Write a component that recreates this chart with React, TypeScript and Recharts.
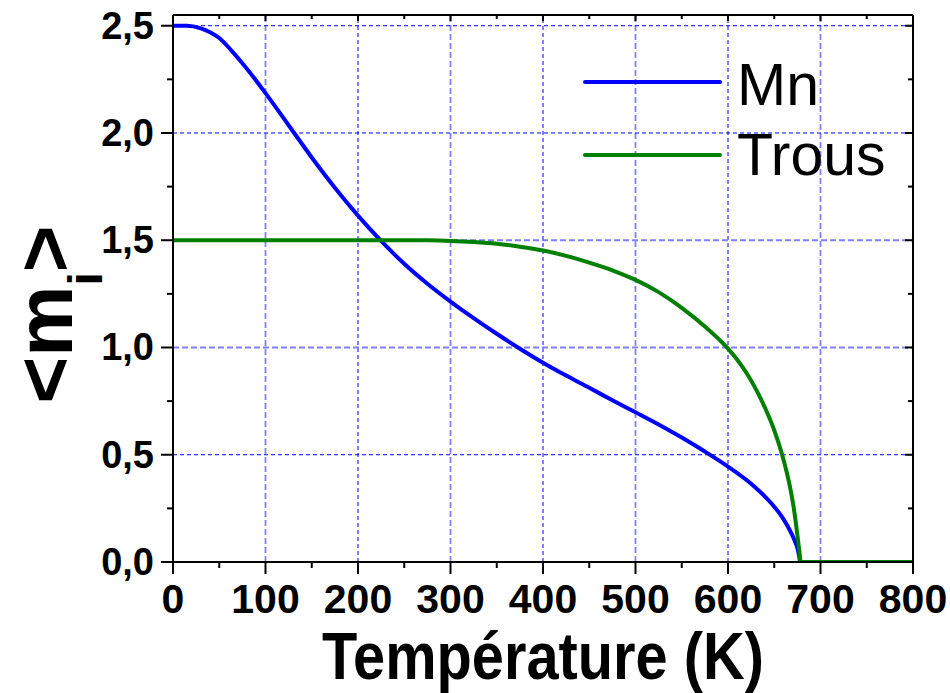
import { LineChart, Line, XAxis, YAxis, ReferenceLine, Legend } from "recharts";

// Mn magnetisation vs temperature
const mnTemps = [0, 15, 30, 40, 50, 62, 75, 100, 125, 150, 175, 200, 225, 250, 275, 300, 325, 350, 375, 400, 425, 450, 475, 500, 525, 550, 575, 600, 625, 640, 650, 660, 668, 672, 675, 677, 678, 700, 800];
const mnValues = [2.5, 2.5, 2.488, 2.47, 2.443, 2.39, 2.325, 2.186, 2.036, 1.886, 1.745, 1.615, 1.497, 1.39, 1.297, 1.214, 1.137, 1.064, 0.994, 0.929, 0.869, 0.812, 0.754, 0.698, 0.641, 0.58, 0.515, 0.445, 0.365, 0.305, 0.258, 0.2, 0.138, 0.1, 0.065, 0.025, 0, 0, 0];

// holes (trous)
const trousTemps = [0, 100, 200, 250, 275, 300, 325, 350, 375, 400, 425, 450, 475, 500, 525, 550, 575, 600, 610, 620, 630, 640, 650, 658, 664, 668, 671, 673, 675, 677, 678.6, 700, 800];
const trousValues = [1.5, 1.5, 1.5, 1.5, 1.4995, 1.497, 1.492, 1.484, 1.47, 1.452, 1.427, 1.396, 1.36, 1.315, 1.258, 1.185, 1.098, 0.995, 0.943, 0.881, 0.807, 0.719, 0.614, 0.508, 0.409, 0.329, 0.254, 0.194, 0.126, 0.056, 0, 0, 0];

const seriesNames = ["Mn", "Trous"];
const seriesColors = ["#0000ff", "#008000"];

const xTicks = [0, 50, 100, 150, 200, 250, 300, 350, 400, 450, 500, 550, 600, 650, 700, 750, 800];
const yTicks = [0, 0.25, 0.5, 0.75, 1, 1.25, 1.5, 1.75, 2, 2.25, 2.5];
const xGridDark = [200, 400, 600];
const xGridLight = [100, 300, 500, 700];
const yGridDark = [0.5, 2, 2.5];
const yGridLight = [1, 1.5];

const mnData = mnTemps.map((t, i) => ({ t, v: mnValues[i] }));
const trousData = trousTemps.map((t, i) => ({ t, v: trousValues[i] }));

const FONT = "'Liberation Sans', Arial, sans-serif";
const isMajorX = (v: number) => v % 100 === 0;
const isMajorY = (v: number) => Math.abs(v * 2 - Math.round(v * 2)) < 1e-6;

const BottomTick = ({ x, y, payload }: any) => {
  const major = isMajorX(payload.value);
  return (
    <g>
      <line x1={x} x2={x} y1={y} y2={y + (major ? 12 : 6)} stroke="#000" strokeWidth={2} />
      {major && (
        <text x={x} y={y + 51} textAnchor="middle" fontSize={41} fontWeight="bold" fontFamily={FONT} fill="#000">
          {payload.value}
        </text>
      )}
    </g>
  );
};

const LeftTick = ({ x, y, payload }: any) => {
  const major = isMajorY(payload.value);
  return (
    <g>
      <line x1={x - (major ? 12 : 6)} x2={x} y1={y} y2={y} stroke="#000" strokeWidth={2} />
      {major && (
        <text x={x - 19} y={y + 13} textAnchor="end" fontSize={38} fontWeight="bold" fontFamily={FONT} fill="#000">
          {payload.value.toFixed(1).replace(".", ",")}
        </text>
      )}
    </g>
  );
};

const TopTick = ({ x, y, payload }: any) => (
  <line x1={x} x2={x} y1={y} y2={y + (isMajorX(payload.value) ? 6 : 4)} stroke="#000" strokeWidth={2} />
);

const RightTick = ({ x, y, payload }: any) => (
  <line x1={x - (isMajorY(payload.value) ? 8 : 5)} x2={x} y1={y} y2={y} stroke="#000" strokeWidth={2} />
);

const XTitle = ({ viewBox }: any) => (
  <text
    x={viewBox.x + viewBox.width / 2}
    y={viewBox.y + 117}
    textAnchor="middle"
    fontSize={66}
    fontWeight="bold"
    fontFamily={FONT}
    textLength={442}
    lengthAdjust="spacingAndGlyphs"
    fill="#000"
  >
    Température (K)
  </text>
);

const YTitle = ({ viewBox }: any) => {
  const cx = viewBox.x + 72;
  const cy = viewBox.y + viewBox.height / 2 + 26;
  return (
    <text transform={`translate(${cx},${cy}) rotate(-90)`} textAnchor="middle" fontSize={80} fontWeight="bold" fontFamily={FONT} fill="#000">
      <tspan>&lt;m</tspan>
      <tspan fontSize={48} dy={30}>i</tspan>
      <tspan dy={-30}>&gt;</tspan>
    </text>
  );
};

const LegendBox = () => (
  <svg width={330} height={150} style={{ display: "block" }}>
    {seriesNames.map((name, i) => (
      <g key={name}>
        <line x1={5} x2={140} y1={42 + i * 73} y2={42 + i * 73} stroke={seriesColors[i]} strokeWidth={4} strokeLinecap="round" />
        <text x={157} y={65 + i * 70} fontSize={59} fontFamily={FONT} fill="#000">
          {name}
        </text>
      </g>
    ))}
  </svg>
);

export default function App() {
  return (
    <div style={{ position: "absolute", left: 0, top: 0, background: "#fff" }}>
      <LineChart width={950} height={693} margin={{ top: 14, right: 36, bottom: 0, left: 0 }}>
        <XAxis
          xAxisId="bottom"
          dataKey="t"
          type="number"
          domain={[0, 800]}
          ticks={xTicks}
          interval={0}
          allowDataOverflow
          height={131}
          tickSize={0}
          tickMargin={0}
          tickLine={false}
          axisLine={{ stroke: "#000", strokeWidth: 2 }}
          tick={<BottomTick />}
          label={<XTitle />}
        />
        <XAxis
          xAxisId="top"
          orientation="top"
          dataKey="t"
          type="number"
          domain={[0, 800]}
          ticks={xTicks}
          interval={0}
          allowDataOverflow
          height={1}
          tickSize={0}
          tickMargin={0}
          tickLine={false}
          axisLine={{ stroke: "#000", strokeWidth: 2 }}
          tick={<TopTick />}
        />
        <YAxis
          yAxisId="left"
          type="number"
          domain={[0, 2.55]}
          ticks={yTicks}
          interval={0}
          allowDataOverflow
          width={173}
          tickSize={0}
          tickMargin={0}
          tickLine={false}
          axisLine={{ stroke: "#000", strokeWidth: 2 }}
          tick={<LeftTick />}
          label={<YTitle />}
        />
        <YAxis
          yAxisId="right"
          orientation="right"
          type="number"
          domain={[0, 2.55]}
          ticks={yTicks}
          interval={0}
          allowDataOverflow
          width={1}
          tickSize={0}
          tickMargin={0}
          tickLine={false}
          axisLine={{ stroke: "#000", strokeWidth: 2 }}
          tick={<RightTick />}
        />
        {xGridLight.map((v) => (
          <ReferenceLine key={`xl${v}`} x={v} xAxisId="bottom" yAxisId="left" stroke="#7f7fff" strokeWidth={1.8} strokeDasharray="6 3" />
        ))}
        {xGridDark.map((v) => (
          <ReferenceLine key={`xd${v}`} x={v} xAxisId="bottom" yAxisId="left" stroke="#0000ff" strokeWidth={1} strokeDasharray="4 3" />
        ))}
        {yGridLight.map((v) => (
          <ReferenceLine key={`yl${v}`} y={v} xAxisId="bottom" yAxisId="left" stroke="#7f7fff" strokeWidth={1.8} strokeDasharray="6 3" />
        ))}
        {yGridDark.map((v) => (
          <ReferenceLine key={`yd${v}`} y={v} xAxisId="bottom" yAxisId="left" stroke="#0000ff" strokeWidth={1} strokeDasharray="4 3" />
        ))}
        <Line
          data={mnData}
          xAxisId="bottom"
          yAxisId="left"
          dataKey="v"
          name={seriesNames[0]}
          type="monotone"
          stroke={seriesColors[0]}
          strokeWidth={4}
          dot={false}
          isAnimationActive={false}
        />
        <Line
          data={trousData}
          xAxisId="top"
          yAxisId="right"
          dataKey="v"
          name={seriesNames[1]}
          type="monotone"
          stroke={seriesColors[1]}
          strokeWidth={4}
          dot={false}
          isAnimationActive={false}
        />
        <Legend
          layout="vertical"
          align="center"
          verticalAlign="middle"
          content={<LegendBox />}
          wrapperStyle={{ top: 40, left: 580, width: 330, height: 150 }}
        />
      </LineChart>
    </div>
  );
}
